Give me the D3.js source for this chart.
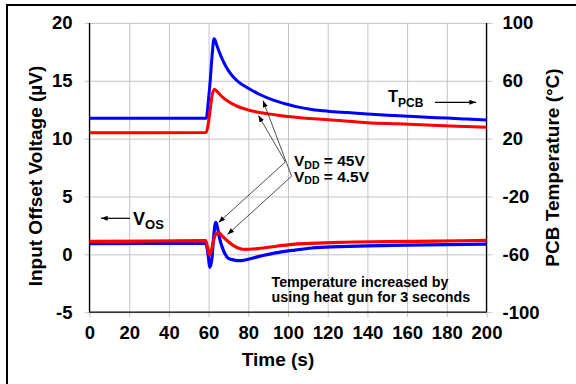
<!DOCTYPE html>
<html><head><meta charset="utf-8">
<script src="https://cdn.jsdelivr.net/npm/d3@7"></script>
<style>
html,body{margin:0;padding:0;background:#fff;}
svg text{font-family:"Liberation Sans",Arial,sans-serif;font-weight:bold;fill:#000;}
</style></head>
<body><svg id="c" width="576" height="384"></svg>
<script>
// ---- data ----
const xTicks = [0,20,40,60,80,100,120,140,160,180,200];
const yTicks = [-5,0,5,10,15,20];
const yRTicks = [-100,-60,-20,20,60,100];

// PCB temperature (°C), right axis
const tBlueT = [0,30,58.8,59.8,60.8,61.8,62.7,63.3,64,65,66,67,68,70,72,75,80,85,90,95,100,106,112,120,130,140,150,160,170,180,190,200];
const blueT  = [34,34,34,45,60,78,89,88,85,81.3,77.7,74.6,71.8,67,63.3,59.3,54.8,51,48,45.6,43.6,41.6,40.2,39,38,37,36.2,35.5,34.8,34.2,33.5,32.8];
const tRedT  = [0,30,58.8,59.8,60.8,61.8,62.9,64,65.5,67,70,73,76,80,85,90,95,100,106,115,126,140,155,170,185,200];
const redT   = [24.1,24.1,24.2,30,40,50,54.1,53,50.8,48.7,45.6,43.3,41.5,39.8,38.2,37.1,36.1,35.3,34.4,33.5,32.6,31,30.2,29.4,28.6,27.8];

// Input offset voltage (µV), left axis
const tBlueV  = [0,30,58.5,59.5,60.7,61.7,62.6,63.6,64.5,65.5,67.4,70,73,75.8,78.3,85,93,103.5,112,126,140,160,180,200];
const blueVos = [0.92,0.94,0.95,0.3,-1.12,-0.3,1.6,2.77,2.3,1.4,0.37,-0.35,-0.5,-0.55,-0.49,-0.2,0.1,0.37,0.55,0.66,0.74,0.8,0.84,0.88];
const tRedV   = [0,30,58.5,59.5,60.5,61.5,62.5,63.5,65.2,67,70,73,76,78.3,85,95,103.5,115,126,150,175,200];
const redVos  = [1.12,1.15,1.18,0.6,-0.05,0.4,1.2,1.7,1.87,1.55,1.09,0.7,0.48,0.43,0.5,0.72,0.89,0.97,1.04,1.1,1.15,1.2];

// annotation anchors (time, µV)
const tipRedT = [85.1, 12.0], tipBlueT = [87.4, 13.29];
const tipBlueV = [65.0, 2.75], tipRedV = [69.5, 1.71];
const knee45 = [98.7, 7.98], knee4p5 = [101.8, 6.75];

// ---- layout ----
const X0 = 89.5, X1 = 486.5, Y0 = 312.2, Y1 = 22.9;
const x = d3.scaleLinear().domain([0,200]).range([X0,X1]);
const y = d3.scaleLinear().domain([-5,20]).range([Y0,Y1]);
const yR = d3.scaleLinear().domain([-100,100]).range([Y0,Y1]);
const fmt = d => String(d);

const svg = d3.select("#c");
const defs = svg.append("defs");
defs.append("marker").attr("id","ah").attr("viewBox","0 0 8 6").attr("refX",8).attr("refY",3)
  .attr("markerWidth",7).attr("markerHeight",5).attr("markerUnits","userSpaceOnUse")
  .attr("orient","auto-start-reverse")
  .append("path").attr("d","M0,0L8,3L0,6Z").attr("fill","#000");

// outer frame
svg.append("path").attr("d","M7,384V5H576").attr("fill","none").attr("stroke","#000").attr("stroke-width",2);

// gridlines via axes
const gx = svg.append("g").attr("transform",`translate(0,${Y0+5})`)
  .call(d3.axisBottom(x).tickValues(xTicks).tickSizeInner(-(Y0-Y1+5)).tickSizeOuter(0).tickFormat(""));
gx.select(".domain").remove();
gx.selectAll("line").attr("stroke","#c4c4c4").attr("stroke-width",1);

const gy = svg.append("g").attr("transform",`translate(${X0-5},0)`)
  .call(d3.axisLeft(y).tickValues(yTicks).tickSizeInner(-(X1-X0+11)).tickSizeOuter(0).tickFormat(""));
gy.select(".domain").remove();
gy.selectAll("line").attr("stroke","#c4c4c4").attr("stroke-width",1);

// axis lines
svg.append("line").attr("x1",X0).attr("x2",X0).attr("y1",Y1).attr("y2",Y0).attr("stroke","#000").attr("stroke-width",1.3);
svg.append("line").attr("x1",X1).attr("x2",X1).attr("y1",Y1).attr("y2",Y0).attr("stroke","#000").attr("stroke-width",1.3);
svg.append("line").attr("x1",X0).attr("x2",X1).attr("y1",Y0).attr("y2",Y0).attr("stroke","#000").attr("stroke-width",1.3);

// tick labels via axes
const lx = svg.append("g").attr("transform",`translate(0,${Y0})`)
  .call(d3.axisBottom(x).tickValues(xTicks).tickFormat(fmt).tickSize(0).tickPadding(14));
lx.select(".domain").remove();
lx.selectAll("text").style("font-size","18.5px").attr("font-family",null);

const ly = svg.append("g").attr("transform",`translate(${X0},0)`)
  .call(d3.axisLeft(y).tickValues(yTicks).tickFormat(fmt).tickSize(0).tickPadding(17));
ly.select(".domain").remove();
ly.selectAll("text").style("font-size","18.5px").attr("font-family",null);

const lr = svg.append("g").attr("transform",`translate(${X1},0)`)
  .call(d3.axisRight(yR).tickValues(yRTicks).tickFormat(fmt).tickSize(0).tickPadding(16));
lr.select(".domain").remove();
lr.selectAll("text").style("font-size","18.5px").attr("font-family",null);

// axis titles
svg.append("text").attr("x",278).attr("y",366).attr("text-anchor","middle").style("font-size","19px").text("Time (s)");
svg.append("text").attr("transform","translate(42.3,176) rotate(-90)").attr("text-anchor","middle").style("font-size","19px").text("Input Offset Voltage (µV)");
svg.append("text").attr("transform","translate(558.5,167.5) rotate(-90)").attr("text-anchor","middle").style("font-size","19px").text("PCB Temperature (°C)");

// series
const lineT = d3.line().x(d=>x(d[0])).y(d=>yR(d[1])).curve(d3.curveMonotoneX);
const lineV = d3.line().x(d=>x(d[0])).y(d=>y(d[1])).curve(d3.curveMonotoneX);
const zip = (a,b)=>a.map((t,i)=>[t,b[i]]);
const plot = svg.append("g");
plot.append("path").attr("d",lineT(zip(tBlueT,blueT))).attr("fill","none").attr("stroke","#0000ff").attr("stroke-width",3).attr("stroke-linejoin","round");
plot.append("path").attr("d",lineT(zip(tRedT,redT))).attr("fill","none").attr("stroke","#ff0000").attr("stroke-width",3).attr("stroke-linejoin","round");
plot.append("path").attr("d",lineV(zip(tBlueV,blueVos))).attr("fill","none").attr("stroke","#0000ff").attr("stroke-width",3.2).attr("stroke-linejoin","round");
plot.append("path").attr("d",lineV(zip(tRedV,redVos))).attr("fill","none").attr("stroke","#ff0000").attr("stroke-width",3.2).attr("stroke-linejoin","round");

// VDD annotation lines
const P = p=>[x(p[0]),y(p[1])];
const bracket = (a,k,b)=>{const A=P(a),K=P(k),B=P(b);return `M${A}L${K}L${B}`;};
svg.append("path").attr("d",bracket(tipRedT,knee45,tipBlueV)).attr("fill","none").attr("stroke","#222").attr("stroke-width",0.8)
  .attr("marker-start","url(#ah)").attr("marker-end","url(#ah)");
svg.append("path").attr("d",bracket(tipBlueT,knee4p5,tipRedV)).attr("fill","none").attr("stroke","#222").attr("stroke-width",0.8)
  .attr("marker-start","url(#ah)").attr("marker-end","url(#ah)");

function subLabel(xp,yp,main,sub,rest,fs,sfs,shift){
  const t = svg.append("text").attr("x",xp).attr("y",yp).style("font-size",fs+"px");
  t.append("tspan").text(main);
  t.append("tspan").attr("dy",shift).style("font-size",sfs+"px").text(sub);
  if(rest) t.append("tspan").attr("dy",-shift).text(rest);
  return t;
}
subLabel(294,166,"V","DD"," = 45V",15.5,10.5,2.5);
subLabel(294,181.5,"V","DD"," = 4.5V",15.5,10.5,2.5);

// T_PCB label + arrow
subLabel(388,102,"T","PCB","",16.5,12,4.5);
svg.append("line").attr("x1",435).attr("x2",476).attr("y1",102.3).attr("y2",102.3).attr("stroke","#000").attr("stroke-width",1.2).attr("marker-end","url(#ah)");

// V_OS label + arrow
subLabel(133,225,"V","OS","",18,13,4);
svg.append("line").attr("x1",130).attr("x2",101).attr("y1",218.3).attr("y2",218.3).attr("stroke","#000").attr("stroke-width",1.2).attr("marker-end","url(#ah)");

// note
svg.append("text").attr("x",271.5).attr("y",286.5).style("font-size","14.3px").text("Temperature increased by");
svg.append("text").attr("x",271.5).attr("y",301.5).style("font-size","14.3px").text("using heat gun for 3 seconds");
</script></body></html>
